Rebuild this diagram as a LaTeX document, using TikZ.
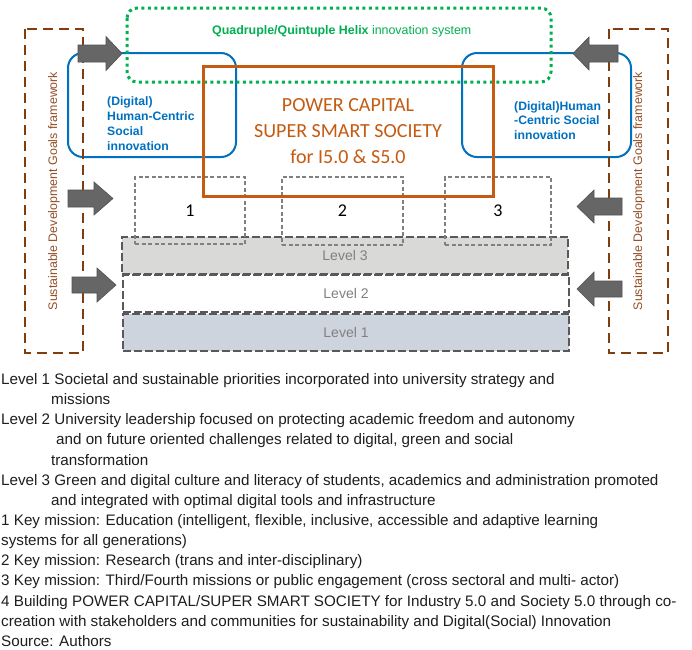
\documentclass[tikz,border=0pt]{standalone}
\usepackage{fontspec}
\setmainfont{Liberation Sans}
\newfontfamily\calibri{Carlito}
\definecolor{sdgbrown}{RGB}{132,60,12}
\definecolor{sdgtext}{RGB}{150,80,40}
\definecolor{helixgreen}{RGB}{0,176,80}
\definecolor{hcblue}{RGB}{0,112,192}
\definecolor{powerorange}{RGB}{197,90,17}
\definecolor{arrowgrey}{RGB}{102,102,102}
\definecolor{arrowedge}{RGB}{80,80,80}
\definecolor{leveledge}{RGB}{89,89,89}
\definecolor{lvthree}{RGB}{217,217,215}
\definecolor{lvone}{RGB}{205,212,222}
\definecolor{numedge}{RGB}{128,128,128}
\definecolor{bodytext}{RGB}{30,30,30}
\begin{document}
\begin{tikzpicture}[x=1pt,y=-1pt,
  sdgbox/.style={draw=sdgbrown, line width=2.2pt, dash pattern=on 10pt off 6pt},
  sdglabel/.style={text=sdgtext, font=\fontsize{12.4}{14}\selectfont, rotate=90, inner sep=0pt},
  helixbox/.style={draw=helixgreen, line width=3pt, dash pattern=on 3pt off 3.5pt, rounded corners=10pt},
  hcbox/.style={draw=hcblue, line width=2pt, rounded corners=15pt},
  hclabel/.style={text=hcblue, font=\bfseries\fontsize{12.2}{15}\selectfont, align=left, inner sep=0pt, anchor=base west},
  powerbox/.style={draw=powerorange, line width=3pt, text=powerorange, align=center, inner sep=0pt,
     font=\calibri\fontsize{20}{26}\selectfont},
  numbox/.style={draw=numedge, line width=1.3pt, dash pattern=on 4pt off 2.5pt, inner sep=0pt,
     font=\calibri\fontsize{18}{20}\selectfont},
  levelbar/.style={draw=leveledge, line width=2pt, dash pattern=on 8pt off 3pt, inner sep=0pt,
     text=numedge, font=\fontsize{14}{16}\selectfont, minimum width=446pt, minimum height=37.5pt},
  fatarrow/.style={fill=arrowgrey, draw=arrowedge, line width=0.6pt, line join=miter},
  bodyline/.style={anchor=base west, inner sep=0pt, text=bodytext, font=\fontsize{15.2}{17}\selectfont}
]
\useasboundingbox (0,0) rectangle (692,649);
\fill[white] (0,0) rectangle (692,649);

% level bars
\node[levelbar, fill=lvone]   (lv1) at (346,332.5) {Level 1};
\node[levelbar, fill=white]   (lv2) at (346,293.5) {Level 2};
\node[levelbar, fill=lvthree] (lv3) at (345,255.5) {Level 3};

% key mission boxes
\node[numbox, minimum width=110pt, minimum height=67pt] (m1) at (190,210.5) {1};
\node[numbox, minimum width=121pt, minimum height=68pt] (m2) at (342.5,211) {2};
\node[numbox, minimum width=106pt, minimum height=68pt] (m3) at (498,211) {3};

% blue human-centric boxes
\draw[hcbox] (68,53) rectangle (236,157);
\draw[hcbox] (462,53) rectangle (631,157);

% helix
\draw[helixbox] (127,8) rectangle (551,82);
\node[anchor=base west, inner sep=0pt, text=helixgreen, font=\fontsize{12.4}{14}\selectfont] (helix) at (212,34)
  {\textbf{Quadruple/Quintuple Helix} innovation system};

% power capital
\node[powerbox, minimum width=290pt, minimum height=130pt] (power) at (348,131)
  {POWER CAPITAL\\SUPER SMART SOCIETY\\for I5.0 \& S5.0};

% blue labels (base anchor = last line's baseline)
\node[hclabel] (hcl) at (107,150) {(Digital)\\Human-Centric\\Social\\innovation};
\node[hclabel, font=\bfseries\fontsize{12.2}{14.5}\selectfont] (hcr) at (514,139) {(Digital)Human\\-Centric Social\\innovation};

% SDG frames
\draw[sdgbox] (25,29) rectangle (83,353);
\draw[sdgbox] (609,29) rectangle (668,353);
\node[sdglabel] (sdgl) at (54,191) {Sustainable Development Goals framework};
\node[sdglabel] (sdgr) at (639,191) {Sustainable Development Goals framework};

% arrows pointing right
\draw[fatarrow] (78,45) -- (106,45) -- (106,36.5) -- (122,53.5) -- (106,70.5) -- (106,62) -- (78,62) -- cycle;
\draw[fatarrow] (68,190) -- (94,190) -- (94,182) -- (113,198.5) -- (94,215) -- (94,207) -- (68,207) -- cycle;
\draw[fatarrow] (72,277) -- (97,277) -- (97,268) -- (116,285) -- (97,302) -- (97,293) -- (72,293) -- cycle;
% arrows pointing left
\draw[fatarrow] (618,45) -- (589,45) -- (589,37) -- (573,53.5) -- (589,70) -- (589,62) -- (618,62) -- cycle;
\draw[fatarrow] (622,198) -- (594,198) -- (594,190) -- (577,206.5) -- (594,223) -- (594,215) -- (622,215) -- cycle;
\draw[fatarrow] (622,281) -- (594,281) -- (594,272) -- (577,289) -- (594,306) -- (594,297) -- (622,297) -- cycle;

% caption text
\node[bodyline] (t1) at (1,384) {Level 1 Societal and sustainable priorities incorporated into university strategy and};
\node[bodyline] (t2) at (51,404) {missions};
\node[bodyline] (t3) at (1,424.5) {Level 2 University leadership focused on protecting academic freedom and autonomy};
\node[bodyline] (t4) at (56,444.5) {and on future oriented challenges related to digital, green and social};
\node[bodyline] (t5) at (51,465) {transformation};
\node[bodyline] (t6) at (1,485) {Level 3 Green and digital culture and literacy of students, academics and administration promoted};
\node[bodyline] (t7) at (51,505) {and integrated with optimal digital tools and infrastructure};
\node[bodyline] (t8) at (1,525) {1 Key mission: Education (intelligent, flexible, inclusive, accessible and adaptive learning};
\node[bodyline] (t9) at (1,545) {systems for all generations)};
\node[bodyline] (t10) at (1,565.5) {2 Key mission: Research (trans and inter-disciplinary)};
\node[bodyline] (t11) at (1,585.7) {3 Key mission: Third/Fourth missions or public engagement (cross sectoral and multi- actor)};
\node[bodyline] (t12) at (1,606) {4 Building POWER CAPITAL/SUPER SMART SOCIETY for Industry 5.0 and Society 5.0 through co-};
\node[bodyline] (t13) at (1,626) {creation with stakeholders and communities for sustainability and Digital(Social) Innovation};
\node[bodyline] (t14) at (1,646) {Source: Authors};
\end{tikzpicture}
\end{document}
